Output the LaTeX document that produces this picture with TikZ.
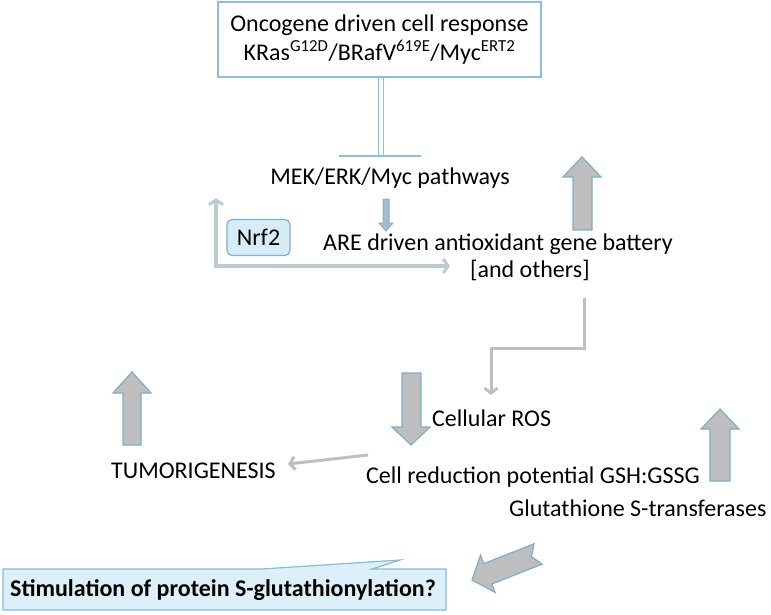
\documentclass[tikz,border=0pt]{standalone}
\usepackage{fontspec}
\setmainfont{Carlito}
\usetikzlibrary{arrows.meta}
\definecolor{boxblue}{HTML}{8BC0D6}
\definecolor{nrfblue}{HTML}{7FB2CC}
\definecolor{nrffill}{HTML}{D7ECF6}
\definecolor{callfill}{HTML}{DDF0F9}
\definecolor{callline}{HTML}{84BDD6}
\definecolor{arrowgray}{HTML}{BEBEBE}
\definecolor{arrowblue}{HTML}{7FADC6}
\definecolor{smallfill}{HTML}{A5BCCA}
\definecolor{smallline}{HTML}{8DB2C6}
\definecolor{conngray}{HTML}{BFBFBF}
\definecolor{lgray}{HTML}{BCCAD2}
\begin{document}
\begin{tikzpicture}[x=1pt,y=-1pt,
  txt/.style={font=\fontsize{24}{27}\selectfont, inner sep=0pt},
  bigarrow/.style={fill=arrowgray, draw=arrowblue, line width=1.2pt, line join=miter},
  conn/.style={draw=conngray, line width=3pt, -{Straight Barb[length=5pt,width=13pt,line width=3pt]}},
  lconn/.style={draw=lgray, line width=4pt, {Straight Barb[length=5pt,width=14pt,line width=3pt]}-{Straight Barb[length=5pt,width=14pt,line width=3pt]}}
]
\useasboundingbox (0,0) rectangle (771,615);

% top box
\node[txt, font=\fontsize{24}{29}\selectfont, draw=boxblue, line width=1.5pt, fill=white, minimum width=323pt, minimum height=75pt, align=center] (onc) at (379.5,39.5)
  {Oncogene driven cell response\\KRas\textsuperscript{G12D}/BRafV\textsuperscript{619E}/Myc\textsuperscript{ERT2}};

% texts
\node[txt, anchor=base] (mek) at (390,184) {MEK/ERK/Myc pathways};
\node[txt, anchor=base west, align=left] (are) at (323,277) {ARE driven antioxidant gene battery\\\hspace*{147pt}[and others]};
\node[txt, anchor=base west] (ros) at (432,426) {Cellular ROS};
\node[txt, anchor=base west] (gsh) at (366,483) {Cell reduction potential GSH:GSSG};
\node[txt, anchor=base west] (tum) at (111,478) {TUMORIGENESIS};
\node[txt, anchor=base west] (gst) at (509,516) {Glutathione S-transferases};

% Nrf2
\node[txt, draw=nrfblue, fill=nrffill, rounded corners=5pt, line width=1.2pt, minimum width=63pt, minimum height=36pt] (nrf) at (258.5,237.5) {Nrf2};

% inhibition connector
\coordinate (bar) at (381,156);
\coordinate (barL) at (339,156);
\coordinate (barR) at (421,156);
\draw[boxblue, line width=1pt, double=white, double distance=4pt] (onc.south -| bar) -- (bar);
\draw[boxblue, line width=1.3pt] (barL) -- (barR);

% small down arrow MEK -> ARE
\path[fill=smallfill, draw=smallline, line width=1pt] (383,199) -- (389,199) -- (389,223) -- (393,223) -- (386,231) -- (379,223) -- (383,223) -- cycle;

% Nrf2 L arrow
\coordinate (lTop) at (216,198);
\coordinate (lCorner) at (216,266);
\coordinate (lEnd) at (450,266);
\draw[lconn] (lTop) -- (lCorner) -- (lEnd);

% big block arrows
\path[bigarrow] (573,230) -- (573,177) -- (563,177) -- (582,157) -- (601,177) -- (592,177) -- (592,230) -- cycle;
\path[bigarrow] (123,445) -- (123,393) -- (113,393) -- (132,372) -- (151,393) -- (141,393) -- (141,445) -- cycle;
\path[bigarrow] (402,373) -- (421,373) -- (421,427) -- (430,427) -- (411,445) -- (392,427) -- (402,427) -- cycle;
\path[bigarrow] (710,481) -- (710,429) -- (701,429) -- (720,409) -- (739,429) -- (730,429) -- (730,481) -- cycle;
\path[bigarrow] (534.0,543.8) -- (483.8,563.6) -- (480.5,555.2) -- (472,580) -- (495.1,592.4) -- (491.8,584.0) -- (542.0,564.2) -- (531.5,556.6) -- cycle;

% gray elbow connector ARE -> ROS
\coordinate (eStart) at (584,298);
\coordinate (eMid1) at (584,348);
\coordinate (eMid2) at (491,348);
\coordinate (eEnd) at (491,395);
\draw[conn] (eStart) -- (eMid1) -- (eMid2) -- (eEnd);

% gray connector -> TUMORIGENESIS
\coordinate (tStart) at (368,455);
\coordinate (tEnd) at (288,464);
\draw[conn] (tStart) -- (tEnd);

% callout
\path[fill=callfill, draw=callline, line width=1.2pt, line join=miter]
  (3,569) -- (262,569) -- (400,560) -- (372,569) -- (446,569) -- (446,610) -- (3,610) -- cycle;
\node[txt, font=\fontsize{24}{29}\selectfont\bfseries, anchor=base west] (stim) at (10,596) {Stimulation of protein S-glutathionylation?};
\end{tikzpicture}
\end{document}
